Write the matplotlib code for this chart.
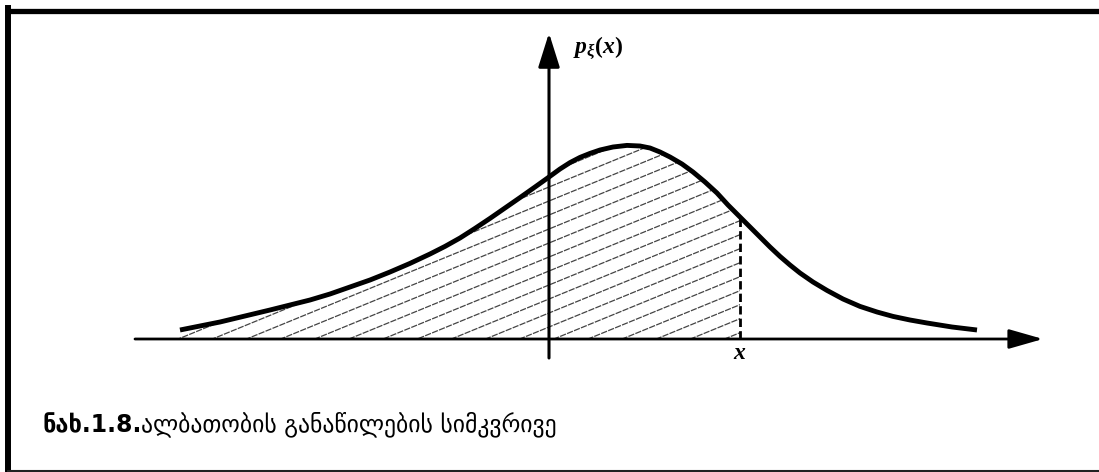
import numpy as np
import matplotlib.pyplot as plt
from matplotlib.lines import Line2D
from matplotlib.patches import Polygon

plt.rcParams['mathtext.fontset'] = 'custom'
plt.rcParams['mathtext.it'] = 'Liberation Serif:italic:bold'
plt.rcParams['mathtext.rm'] = 'Liberation Serif:bold'

# density curve p(x), read point by point
xs = [-3.69, -3.49, -3.29, -3.04, -2.79, -2.59, -2.39, -2.19, -1.99, -1.79,
      -1.59, -1.39, -1.19, -1.04, -0.89, -0.74, -0.59, -0.44, -0.29, -0.14,
      0.00, 0.11, 0.21, 0.31, 0.41, 0.51, 0.64, 0.78, 0.91, 1.01,
      1.11, 1.21, 1.33, 1.44, 1.56, 1.68, 1.79, 1.91, 2.01, 2.11,
      2.21, 2.31, 2.41, 2.51, 2.64, 2.78, 2.94, 3.11, 3.28, 3.44,
      3.61, 3.78, 4.03, 4.28]
ps = [0.045, 0.065, 0.085, 0.115, 0.145, 0.17, 0.195, 0.225, 0.26, 0.295,
      0.335, 0.378, 0.425, 0.463, 0.505, 0.553, 0.603, 0.655, 0.707, 0.76,
      0.81, 0.85, 0.882, 0.908, 0.928, 0.945, 0.96, 0.968, 0.965, 0.955,
      0.935, 0.91, 0.875, 0.835, 0.785, 0.73, 0.67, 0.61, 0.56, 0.51,
      0.46, 0.413, 0.37, 0.33, 0.285, 0.243, 0.20, 0.163, 0.135, 0.113,
      0.095, 0.08, 0.06, 0.045]
x0 = 1.91          # upper limit of the shaded area
x_left = -3.79     # where the shading meets the axis

caption_bold = 'ნახ.1.8.'
caption_text = 'ალბათობის განაწილების სიმკვრივე'

fig = plt.figure(figsize=(10.99, 4.72), dpi=100)
ax = fig.add_axes([0, 0, 1, 1])
ax.set_xlim(-5.49, 5.50)
ax.set_ylim(-0.665, 1.695)
ax.axis('off')

xs = np.array(xs)
ps = np.array(ps)

# shaded area under the curve up to x0
sel = xs <= x0
verts = [(x_left, 0)] + list(zip(xs[sel], ps[sel])) + [(x0, 0)]
region = Polygon(verts, closed=True, fill=False, edgecolor='none')
ax.add_patch(region)
for c in np.arange(-1.2, 1.6, 0.07):
    hx = np.array([-4.5, 2.5])
    ln, = ax.plot(hx, 0.205 * hx + c, color='#444444', lw=0.9,
                  linestyle=(0, (5, 1)))
    ln.set_clip_path(region)

# coordinate axes
ax.annotate('', xy=(4.94, 0), xytext=(-4.14, 0),
            arrowprops=dict(arrowstyle='-|>,head_length=0.7,head_width=0.2',
                            lw=2, color='k', mutation_scale=30,
                            shrinkA=0, shrinkB=0))
ax.annotate('', xy=(0, 1.53), xytext=(0, -0.095),
            arrowprops=dict(arrowstyle='-|>,head_length=0.7,head_width=0.22',
                            lw=2.2, color='k', mutation_scale=30,
                            shrinkA=0, shrinkB=0))

ax.plot(xs, ps, color='k', lw=3.5, solid_capstyle='butt', solid_joinstyle='round')
ax.plot([x0, x0], [0, ps[xs == x0][0]], color='k', lw=2, linestyle=(0, (3, 1.5)))

ax.text(0.24, 1.455, r'$p_{\xi}(x)$', fontsize=17, ha='left', va='center')
ax.text(x0, -0.065, r'$x$', fontsize=17, ha='center', va='center')

# caption
t1 = ax.text(-5.07, -0.465, caption_bold, fontsize=17, fontweight='bold',
             family='DejaVu Sans', ha='left', va='baseline')
ax.annotate(caption_text, xy=(1, 0), xycoords=t1, fontsize=17,
            family='DejaVu Sans', ha='left', va='bottom')

# frame around the figure
fig.add_artist(Line2D([8 / 1099, 1], [1 - 10.5 / 472] * 2, color='k', lw=3.8))
fig.add_artist(Line2D([8 / 1099] * 2, [1 - 8 / 472, 1 / 472], color='k', lw=4.3))
fig.add_artist(Line2D([8 / 1099, 1], [1 / 472] * 2, color='#222222', lw=1.5))

fig.savefig('out.png', dpi=100)
